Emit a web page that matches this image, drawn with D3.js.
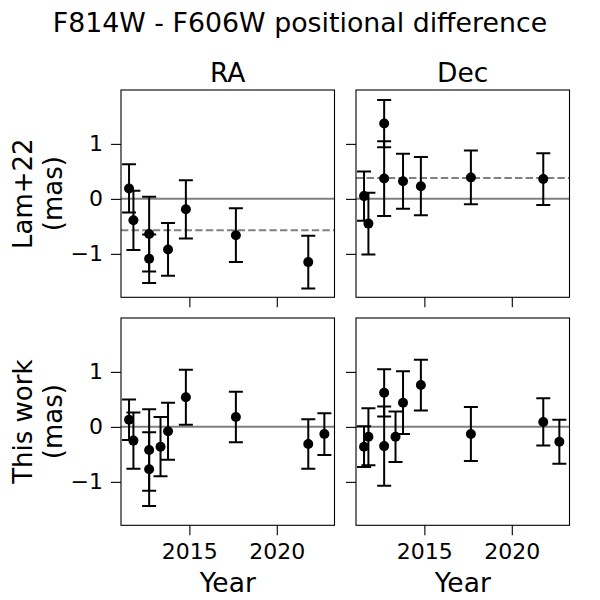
<!DOCTYPE html>
<html>
<head>
<meta charset="utf-8">
<script src="https://cdn.jsdelivr.net/npm/d3@7"></script>
<style>
  html, body { margin: 0; padding: 0; background: #fff; }
  text { font-family: "DejaVu Sans", sans-serif; fill: #000; }
</style>
</head>
<body>
<svg id="chart" width="600" height="600"></svg>
<script>
// ---- data ----
const lamYears   = [2011.55, 2011.8, 2012.7, 2012.7, 2013.78, 2014.8, 2017.66, 2021.8];
const lamRA      = [0.19, -0.39, -0.64, -1.09, -0.92, -0.19, -0.66, -1.15];
const lamRAErr   = [0.44, 0.54, 0.68, 0.44, 0.48, 0.53, 0.49, 0.48];
const lamDec     = [0.05, -0.45, 0.37, 1.37, 0.32, 0.23, 0.39, 0.36];
const lamDecErr  = [0.45, 0.56, 0.68, 0.43, 0.50, 0.53, 0.49, 0.47];
const lamRAMean  = -0.57;
const lamDecMean = 0.38;

const thisYears  = [2011.55, 2011.8, 2012.7, 2012.7, 2013.35, 2013.78, 2014.8, 2017.66, 2021.8, 2022.72];
const thisRA     = [0.13, -0.25, -0.42, -0.77, -0.36, -0.08, 0.54, 0.18, -0.31, -0.13];
const thisRAErr  = [0.37, 0.51, 0.74, 0.67, 0.54, 0.52, 0.50, 0.46, 0.45, 0.38];
const thisDec    = [-0.36, -0.18, 0.62, -0.35, -0.18, 0.44, 0.76, -0.13, 0.09, -0.27];
const thisDecErr = [0.37, 0.52, 0.43, 0.72, 0.46, 0.57, 0.46, 0.49, 0.43, 0.40];

const xDomain = [2011.09, 2023.30];
const yDomain = [-1.79, 1.98];
const xTickValues = [2015, 2020];
const yTickValues = [-1, 0, 1];
const colTitles = ["RA", "Dec"];
const rowLabels = [["Lam+22", "(mas)"], ["This work", "(mas)"]];
const xLabel = "Year";
const title = "F814W - F606W positional difference";

// ---- layout ----
const svg = d3.select("#chart");
svg.append("rect").attr("width", 600).attr("height", 600).attr("fill", "#fff");

const colX = [121, 356];
const rowY = [90, 318];
const pw = 213.5, ph = 207.3;
const labelSize = 26.5, rowLabelSize = 26, tickSize = 22, titleSize = 26.8;

const panels = [
  { r: 0, c: 0, years: lamYears,  vals: lamRA,   errs: lamRAErr,   mean: lamRAMean },
  { r: 0, c: 1, years: lamYears,  vals: lamDec,  errs: lamDecErr,  mean: lamDecMean },
  { r: 1, c: 0, years: thisYears, vals: thisRA,  errs: thisRAErr,  mean: null },
  { r: 1, c: 1, years: thisYears, vals: thisDec, errs: thisDecErr, mean: null },
];

const minus = s => String(s).replace("-", "\u2212");

panels.forEach(p => {
  const x0 = colX[p.c], y0 = rowY[p.r];
  const x = d3.scaleLinear().domain(xDomain).range([x0, x0 + pw]);
  const y = d3.scaleLinear().domain(yDomain).range([y0 + ph, y0]);
  const g = svg.append("g");

  const clipId = `clip${p.r}${p.c}`;
  svg.append("clipPath").attr("id", clipId)
    .append("rect").attr("x", x0).attr("y", y0).attr("width", pw).attr("height", ph);
  const inner = g.append("g").attr("clip-path", `url(#${clipId})`);

  // zero line
  inner.append("line")
    .attr("x1", x0).attr("x2", x0 + pw)
    .attr("y1", y(0)).attr("y2", y(0))
    .attr("stroke", "#808080").attr("stroke-width", 2);
  // mean line
  if (p.mean !== null) {
    inner.append("line")
      .attr("x1", x0).attr("x2", x0 + pw)
      .attr("y1", y(p.mean)).attr("y2", y(p.mean))
      .attr("stroke", "#808080").attr("stroke-width", 2)
      .attr("stroke-dasharray", "7.4,3.2");
  }

  const data = p.years.map((t, i) => ({ t, v: p.vals[i], e: p.errs[i] }));
  const cap = 7;
  const eb = inner.selectAll("g.eb").data(data).join("g").attr("class", "eb");
  eb.append("line")
    .attr("x1", d => x(d.t)).attr("x2", d => x(d.t))
    .attr("y1", d => y(d.v - d.e)).attr("y2", d => y(d.v + d.e))
    .attr("stroke", "#000").attr("stroke-width", 2);
  eb.append("line")
    .attr("x1", d => x(d.t) - cap).attr("x2", d => x(d.t) + cap)
    .attr("y1", d => y(d.v + d.e)).attr("y2", d => y(d.v + d.e))
    .attr("stroke", "#000").attr("stroke-width", 2);
  eb.append("line")
    .attr("x1", d => x(d.t) - cap).attr("x2", d => x(d.t) + cap)
    .attr("y1", d => y(d.v - d.e)).attr("y2", d => y(d.v - d.e))
    .attr("stroke", "#000").attr("stroke-width", 2);
  inner.selectAll("circle").data(data).join("circle")
    .attr("cx", d => x(d.t)).attr("cy", d => y(d.v)).attr("r", 5)
    .attr("fill", "#000");

  // frame
  g.append("rect").attr("x", x0).attr("y", y0).attr("width", pw).attr("height", ph)
    .attr("fill", "none").attr("stroke", "#000").attr("stroke-width", 1.1);

  // axes
  const xa = d3.axisBottom(x).tickValues(xTickValues).tickSize(10).tickPadding(8)
    .tickFormat(p.r === 1 ? d3.format("d") : () => "");
  const gx = g.append("g").attr("transform", `translate(0,${y0 + ph})`).call(xa);
  const ya = d3.axisLeft(y).tickValues(yTickValues).tickSize(10).tickPadding(8)
    .tickFormat(p.c === 0 ? d => minus(d) : () => "");
  const gy = g.append("g").attr("transform", `translate(${x0},0)`).call(ya);
  [gx, gy].forEach(a => {
    a.select(".domain").remove();
    a.selectAll(".tick line").attr("stroke", "#000").attr("stroke-width", 1.1);
    a.selectAll(".tick text").attr("font-family", "DejaVu Sans").attr("font-size", tickSize).attr("fill", "#000");
  });

  if (p.r === 0) {
    svg.append("text").attr("x", x0 + pw / 2).attr("y", 82.3)
      .attr("text-anchor", "middle").attr("font-size", labelSize).text(colTitles[p.c]);
  }
  if (p.r === 1) {
    svg.append("text").attr("x", x0 + pw / 2).attr("y", 591.5)
      .attr("text-anchor", "middle").attr("font-size", labelSize).text(xLabel);
  }
  if (p.c === 0) {
    const cy = y0 + ph / 2;
    const lbl = svg.append("text").attr("transform", `translate(0,${cy}) rotate(-90)`)
      .attr("text-anchor", "middle").attr("font-size", rowLabelSize);
    lbl.append("tspan").attr("x", 0).attr("y", 31.5).text(rowLabels[p.r][0]);
    lbl.append("tspan").attr("x", 0).attr("y", 61.5).text(rowLabels[p.r][1]);
  }
});

svg.append("text").attr("x", 300).attr("y", 32).attr("text-anchor", "middle")
  .attr("font-size", titleSize).text(title);
</script>
</body>
</html>
